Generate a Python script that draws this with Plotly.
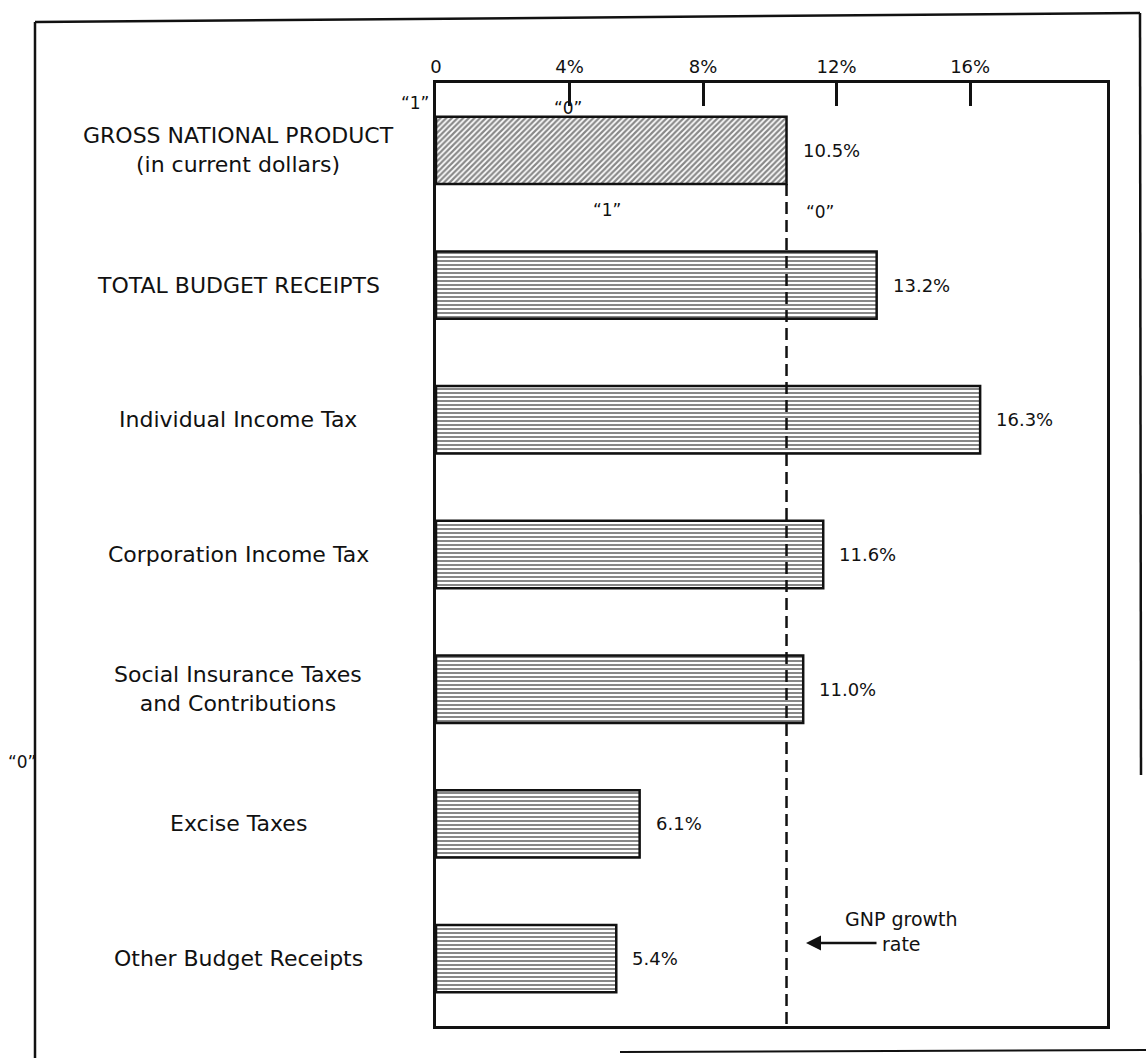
import plotly.graph_objects as go

# Growth rates (percent) by receipt category
categories = [
    "GROSS NATIONAL PRODUCT<br>(in current dollars)",
    "TOTAL BUDGET RECEIPTS",
    "Individual Income Tax",
    "Corporation Income Tax",
    "Social Insurance Taxes<br>and Contributions",
    "Excise Taxes",
    "Other Budget Receipts",
]
growth = [10.5, 13.2, 16.3, 11.6, 11.0, 6.1, 5.4]
value_labels = ["10.5%", "13.2%", "16.3%", "11.6%", "11.0%", "6.1%", "5.4%"]
tick_values = [0, 4, 8, 12, 16]
tick_labels = ["0", "4%", "8%", "12%", "16%"]
gnp_rate = growth[0]

# Page geometry (pixels) of the plotting box
W_PAGE, H_PAGE = 1146, 1058
L, R, T, B = 436, 1107, 83, 1026
PW, PH = R - L, B - T


def px_x(p):
    return (p - L) / PW


def px_y(p):
    return (B - p) / PH


FONT = "DejaVu Sans, Verdana, sans-serif"
ink = "#111111"

idx = list(range(len(categories)))
fill_shape = ["/"] + ["-"] * (len(categories) - 1)
fill_solidity = [0.55] + [0.5] * (len(categories) - 1)

fig = go.Figure()
fig.add_trace(go.Bar(
    x=growth,
    y=idx,
    orientation="h",
    width=0.5,
    marker=dict(
        color="white",
        line=dict(color=ink, width=2.5),
        pattern=dict(shape=fill_shape, fgcolor=ink, bgcolor="white",
                     size=4, solidity=fill_solidity, fillmode="overlay"),
    ),
    hoverinfo="skip",
))

annotations = []
# category labels, centred in the left margin
for i, name in enumerate(categories):
    annotations.append(dict(
        x=px_x(238), xref="paper", y=i, yref="y", text=name,
        showarrow=False, xanchor="center", yanchor="middle",
        font=dict(size=22, family=FONT, color=ink),
    ))
# value labels at the bar ends
for i, (v, lab) in enumerate(zip(growth, value_labels)):
    annotations.append(dict(
        x=v, xref="x", y=i, yref="y", text=lab, showarrow=False,
        xanchor="left", yanchor="middle", xshift=14,
        font=dict(size=18, family=FONT, color=ink),
    ))

# quoted marker labels
quoted = [("“1”", 415, 103), ("“0”", 568, 108), ("“1”", 607, 210),
          ("“0”", 820, 212), ("“0”", 22, 762)]
for txt, qx, qy in quoted:
    annotations.append(dict(
        x=px_x(qx), xref="paper", y=px_y(qy), yref="paper", text=txt,
        showarrow=False, xanchor="center", yanchor="middle",
        font=dict(size=17, family=FONT, color=ink),
    ))

# GNP growth rate callout
annotations.append(dict(
    x=px_x(901), xref="paper", y=px_y(931), yref="paper",
    text="GNP growth<br>rate", showarrow=False, xanchor="center",
    yanchor="middle", font=dict(size=19, family=FONT, color=ink),
))
annotations.append(dict(
    x=px_x(806), xref="paper", y=px_y(943), yref="paper", text="",
    showarrow=True, ax=72, ay=0, arrowhead=2, arrowsize=1.2,
    arrowwidth=2.5, arrowcolor=ink, standoff=0, startstandoff=0,
))

shapes = [
    # GNP reference line
    dict(type="line", xref="x", yref="y", x0=gnp_rate, x1=gnp_rate,
         y0=0.25, y1=6.5, layer="above",
         line=dict(color=ink, width=2.5, dash="12px,6px")),
    # outer frame
    dict(type="line", xref="paper", yref="paper", x0=px_x(35), x1=px_x(35),
         y0=px_y(22), y1=px_y(1058), line=dict(color=ink, width=2.5)),
    dict(type="line", xref="paper", yref="paper", x0=px_x(35), x1=px_x(1140),
         y0=px_y(22), y1=px_y(13), line=dict(color=ink, width=2.5)),
    dict(type="line", xref="paper", yref="paper", x0=px_x(1140), x1=px_x(1141),
         y0=px_y(13), y1=px_y(775), line=dict(color=ink, width=2.5)),
    dict(type="line", xref="paper", yref="paper", x0=px_x(620), x1=px_x(1146),
         y0=px_y(1052), y1=px_y(1050), line=dict(color=ink, width=2)),
]

fig.update_layout(
    width=W_PAGE, height=H_PAGE,
    margin=dict(l=L, r=W_PAGE - R, t=T, b=H_PAGE - B),
    paper_bgcolor="white", plot_bgcolor="white",
    showlegend=False,
    annotations=annotations,
    shapes=shapes,
    xaxis=dict(
        side="top", range=[0, 20.1], tickvals=tick_values, ticktext=tick_labels,
        ticks="inside", ticklen=23, tickwidth=2.5, tickcolor=ink,
        showline=True, linewidth=2.5, linecolor=ink, mirror=True,
        showgrid=False, zeroline=False,
        tickfont=dict(size=18, family=FONT, color=ink),
    ),
    yaxis=dict(
        range=[6.5, -0.5], showticklabels=False, ticks="",
        showline=True, linewidth=2.5, linecolor=ink, mirror=True,
        showgrid=False, zeroline=False,
    ),
)

fig.write_html("out.html")
